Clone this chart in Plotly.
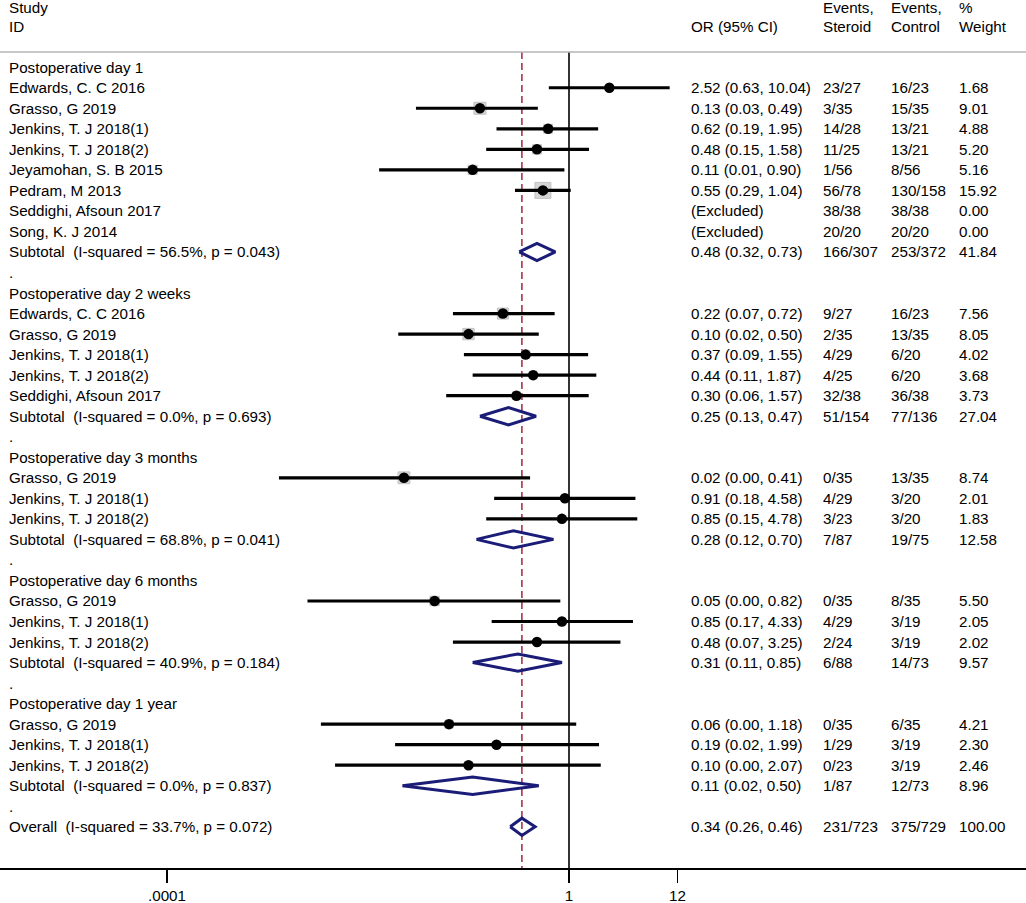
import plotly.graph_objects as go

# ---------------- data ----------------
group_names = ["Postoperative day 1", "Postoperative day 2 weeks",
               "Postoperative day 3 months", "Postoperative day 6 months",
               "Postoperative day 1 year"]

study_group = [0] * 8 + [1] * 5 + [2] * 3 + [3] * 3 + [4] * 3
study_names = [
    "Edwards, C. C 2016", "Grasso, G 2019", "Jenkins, T. J 2018(1)", "Jenkins, T. J 2018(2)",
    "Jeyamohan, S. B 2015", "Pedram, M 2013", "Seddighi, Afsoun 2017", "Song, K. J 2014",
    "Edwards, C. C 2016", "Grasso, G 2019", "Jenkins, T. J 2018(1)", "Jenkins, T. J 2018(2)",
    "Seddighi, Afsoun 2017",
    "Grasso, G 2019", "Jenkins, T. J 2018(1)", "Jenkins, T. J 2018(2)",
    "Grasso, G 2019", "Jenkins, T. J 2018(1)", "Jenkins, T. J 2018(2)",
    "Grasso, G 2019", "Jenkins, T. J 2018(1)", "Jenkins, T. J 2018(2)",
]
study_or = [2.52, 0.13, 0.62, 0.48, 0.11, 0.55, None, None,
            0.22, 0.10, 0.37, 0.44, 0.30,
            0.0228, 0.91, 0.85,
            0.046, 0.85, 0.48,
            0.064, 0.19, 0.10]
study_lo = [0.63, 0.03, 0.19, 0.15, 0.0129, 0.29, None, None,
            0.07, 0.02, 0.09, 0.11, 0.06,
            0.0013, 0.18, 0.15,
            0.0025, 0.17, 0.07,
            0.0034, 0.0186, 0.0047]
study_hi = [10.04, 0.49, 1.95, 1.58, 0.90, 1.04, None, None,
            0.72, 0.50, 1.55, 1.87, 1.57,
            0.41, 4.58, 4.78,
            0.82, 4.33, 3.25,
            1.18, 1.99, 2.07]
ev_steroid = ["23/27", "3/35", "14/28", "11/25", "1/56", "56/78", "38/38", "20/20",
              "9/27", "2/35", "4/29", "4/25", "32/38",
              "0/35", "4/29", "3/23",
              "0/35", "4/29", "2/24",
              "0/35", "1/29", "0/23"]
ev_control = ["16/23", "15/35", "13/21", "13/21", "8/56", "130/158", "38/38", "20/20",
              "16/23", "13/35", "6/20", "6/20", "36/38",
              "13/35", "3/20", "3/20",
              "8/35", "3/19", "3/19",
              "6/35", "3/19", "3/19"]
weight = [1.68, 9.01, 4.88, 5.20, 5.16, 15.92, 0.00, 0.00,
          7.56, 8.05, 4.02, 3.68, 3.73,
          8.74, 2.01, 1.83,
          5.50, 2.05, 2.02,
          4.21, 2.30, 2.46]

sub_i2 = ["56.5%", "0.0%", "68.8%", "40.9%", "0.0%"]
sub_p = ["0.043", "0.693", "0.041", "0.184", "0.837"]
sub_or = [0.48, 0.25, 0.28, 0.31, 0.11]
sub_lo = [0.32, 0.13, 0.12, 0.11, 0.022]
sub_hi = [0.73, 0.47, 0.70, 0.85, 0.50]
sub_ev_steroid = ["166/307", "51/154", "7/87", "6/88", "1/87"]
sub_ev_control = ["253/372", "77/136", "19/75", "14/73", "12/73"]
sub_weight = [41.84, 27.04, 12.58, 9.57, 8.96]

overall_i2 = "33.7%"
overall_p = "0.072"
overall_or = 0.34
overall_lo = 0.26
overall_hi = 0.46
overall_ev_steroid = "231/723"
overall_ev_control = "375/729"
overall_weight = 100.00

tick_vals = [0.0001, 1, 12]
tick_text = [".0001", "1", "12"]

# ---------------- layout of rows ----------------
rows = []
r = 0
for g, gname in enumerate(group_names):
    rows.append(dict(row=r, kind="group", label=gname)); r += 1
    for i, sg in enumerate(study_group):
        if sg == g:
            rows.append(dict(row=r, kind="study", idx=i)); r += 1
    rows.append(dict(row=r, kind="sub", idx=g)); r += 1
    rows.append(dict(row=r, kind="dot")); r += 1
rows.append(dict(row=r, kind="overall"))

W, H = 1026, 903
BOT = 35
FONT = "Liberation Sans, Arial, sans-serif"
FS = 15.2
TXT = "#000000"
NAVY = "#1b1c78"
MAROON = "#a0283a"

fig = go.Figure()

top_r = -0.74
bottom_r = 39.2

# reference lines
fig.add_trace(go.Scatter(x=[1, 1], y=[top_r, bottom_r], mode="lines",
                         line=dict(color="#000000", width=1.6), hoverinfo="skip"))
fig.add_trace(go.Scatter(x=[overall_or, overall_or], y=[top_r, bottom_r], mode="lines",
                         line=dict(color=MAROON, width=1.5, dash="7px,4px"), hoverinfo="skip"))

# study marks
sq_x, sq_y, sq_s = [], [], []
ci_x, ci_y = [], []
pt_x, pt_y = [], []
dia_x, dia_y = [], []
for rw in rows:
    y = rw["row"]
    if rw["kind"] == "study":
        i = rw["idx"]
        if study_or[i] is None:
            continue
        sq_x.append(study_or[i]); sq_y.append(y); sq_s.append(4.0 * weight[i] ** 0.5)
        ci_x += [study_lo[i], study_hi[i], None]; ci_y += [y, y, None]
        pt_x.append(study_or[i]); pt_y.append(y)
    elif rw["kind"] in ("sub", "overall"):
        if rw["kind"] == "sub":
            g = rw["idx"]
            e, lo, hi = sub_or[g], sub_lo[g], sub_hi[g]
        else:
            e, lo, hi = overall_or, overall_lo, overall_hi
        h = 0.42
        dia_x += [lo, e, hi, e, lo, None]
        dia_y += [y, y - h, y, y + h, y, None]

fig.add_trace(go.Scatter(x=sq_x, y=sq_y, mode="markers",
                         marker=dict(symbol="square", size=sq_s, color="#c4c4c4",
                                     line=dict(color="#a9a9a9", width=1)),
                         hoverinfo="skip"))
fig.add_trace(go.Scatter(x=ci_x, y=ci_y, mode="lines",
                         line=dict(color="#000000", width=3.2), hoverinfo="skip"))
fig.add_trace(go.Scatter(x=pt_x, y=pt_y, mode="markers",
                         marker=dict(symbol="circle", size=10.5, color="#000000"),
                         hoverinfo="skip"))
fig.add_trace(go.Scatter(x=dia_x, y=dia_y, mode="lines",
                         line=dict(color=NAVY, width=3), hoverinfo="skip"))

# text columns
X_LAB, X_OR, X_ST, X_CT, X_WT = 8, 690, 822, 890, 958


def ann(xpx, y, text):
    fig.add_annotation(x=xpx / W, xref="paper", y=y, yref="y", text=text,
                       showarrow=False, xanchor="left", yanchor="middle",
                       font=dict(family=FONT, size=FS, color=TXT), borderpad=0)


def fmt_ci(e, lo, hi):
    return f"{e:.2f} ({lo:.2f}, {hi:.2f})"


# header
hy1, hy2 = -2.93, -1.98
ann(X_LAB, hy1, "Study")
ann(X_LAB, hy2, "ID")
ann(X_OR, hy2, "OR (95% CI)")
ann(X_ST, hy1, "Events,")
ann(X_ST, hy2, "Steroid")
ann(X_CT, hy1, "Events,")
ann(X_CT, hy2, "Control")
ann(X_WT, hy1, "%")
ann(X_WT, hy2, "Weight")

for rw in rows:
    y = rw["row"]
    k = rw["kind"]
    if k == "group":
        ann(X_LAB, y, rw["label"])
    elif k == "dot":
        ann(X_LAB, y, ".")
    elif k == "study":
        i = rw["idx"]
        ann(X_LAB, y, study_names[i])
        if study_or[i] is None:
            ann(X_OR, y, "(Excluded)")
        else:
            ann(X_OR, y, fmt_ci(study_or[i], study_lo[i], study_hi[i]))
        ann(X_ST, y, ev_steroid[i])
        ann(X_CT, y, ev_control[i])
        ann(X_WT, y, f"{weight[i]:.2f}")
    elif k == "sub":
        g = rw["idx"]
        ann(X_LAB, y, f"Subtotal\u00a0 (I-squared = {sub_i2[g]}, p = {sub_p[g]})")
        ann(X_OR, y, fmt_ci(sub_or[g], sub_lo[g], sub_hi[g]))
        ann(X_ST, y, sub_ev_steroid[g])
        ann(X_CT, y, sub_ev_control[g])
        ann(X_WT, y, f"{sub_weight[g]:.2f}")
    elif k == "overall":
        ann(X_LAB, y, f"Overall\u00a0 (I-squared = {overall_i2}, p = {overall_p})")
        ann(X_OR, y, fmt_ci(overall_or, overall_lo, overall_hi))
        ann(X_ST, y, overall_ev_steroid)
        ann(X_CT, y, overall_ev_control)
        ann(X_WT, y, f"{overall_weight:.2f}")

# header separator
fig.add_shape(type="line", xref="paper", yref="y", x0=0, x1=1, y0=top_r, y1=top_r,
              line=dict(color="#b4b4b4", width=1.6), layer="above")

PX_PER_DEC = 100.5
X_ONE = 569
x_range = [-X_ONE / PX_PER_DEC, (W - X_ONE) / PX_PER_DEC]

ROW0 = 67.2
ROW_H = 20.53
plot_h = H - BOT
y_range = [(plot_h - ROW0) / ROW_H, -ROW0 / ROW_H]

fig.update_layout(
    width=W, height=H, autosize=False,
    margin=dict(l=0, r=0, t=0, b=BOT, pad=0),
    paper_bgcolor="white", plot_bgcolor="white",
    showlegend=False,
    font=dict(family=FONT, size=FS, color=TXT),
    xaxis=dict(type="log", range=x_range, fixedrange=True,
               showgrid=False, zeroline=False,
               showline=True, linecolor="#000000", linewidth=1.6,
               ticks="outside", ticklen=13, tickwidth=1.6, tickcolor="#000000",
               tickvals=tick_vals, ticktext=tick_text,
               tickfont=dict(family=FONT, size=FS, color=TXT)),
    yaxis=dict(range=y_range, visible=False, fixedrange=True,
               showgrid=False, zeroline=False),
)

fig.write_html("out.html",
               config={"displayModeBar": False, "staticPlot": True},
               post_script="document.body.style.margin='0';document.body.style.overflow='hidden';")
